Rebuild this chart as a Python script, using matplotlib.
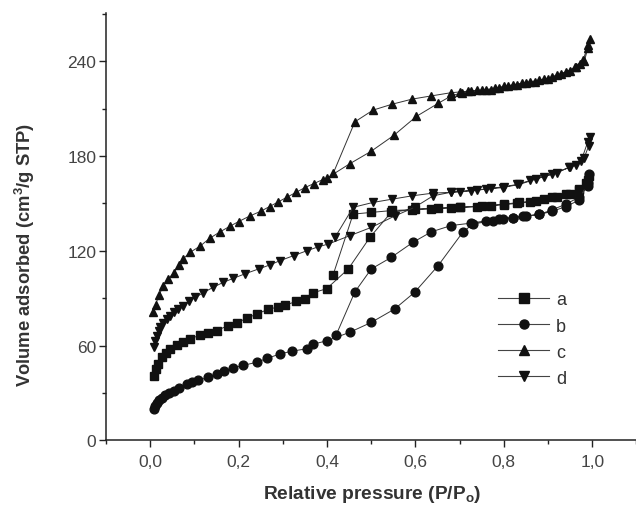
import matplotlib
matplotlib.use("Agg")
import matplotlib.pyplot as plt
from matplotlib.lines import Line2D
from matplotlib.ticker import MultipleLocator, FuncFormatter

plt.rcParams['font.family'] = ['Liberation Sans', 'DejaVu Sans']

# sample a: adsorption then desorption branch
a_ads_p = [0.0075, 0.012, 0.018, 0.026, 0.035, 0.045, 0.06, 0.075, 0.09, 0.113, 0.13, 0.15,
           0.175, 0.196, 0.22, 0.241, 0.267, 0.29, 0.305, 0.33, 0.35, 0.369, 0.399, 0.448,
           0.497, 0.545, 0.598, 0.65, 0.70, 0.75, 0.80, 0.835, 0.873, 0.91, 0.94, 0.97, 0.986, 0.993]
a_ads_v = [41, 45, 48.5, 52.6, 55.5, 58, 60.5, 62.5, 64.5, 66.5, 68, 69.5,
           72.5, 74.5, 77.5, 80, 83, 84.5, 85.5, 88, 89.5, 93.5, 96, 108.5,
           128.5, 144.3, 146.4, 147, 147.5, 148.2, 149.5, 150.6, 151.6, 153.8, 155.9, 159, 163, 167.5]
a_des_p = [0.99, 0.97, 0.95, 0.92, 0.89, 0.86, 0.83, 0.80, 0.77, 0.74, 0.70, 0.68,
           0.636, 0.593, 0.548, 0.5, 0.459, 0.414]
a_des_v = [165, 158.5, 156, 154, 152.5, 151, 150, 149.2, 148.5, 148, 147.5, 147.2,
           146.5, 146, 145.5, 144.3, 143.2, 105]

# sample b
b_ads_p = [0.008, 0.011, 0.015, 0.02, 0.027, 0.034, 0.043, 0.053, 0.065, 0.083, 0.095, 0.109,
           0.13, 0.15, 0.168, 0.188, 0.21, 0.241, 0.265, 0.293, 0.32, 0.354, 0.369, 0.399,
           0.451, 0.5, 0.553, 0.598, 0.651, 0.707, 0.73, 0.775, 0.797, 0.82, 0.843, 0.88,
           0.91, 0.94, 0.97, 0.99, 0.993]
b_ads_v = [20, 22, 24, 25.5, 27, 28.5, 30, 31.5, 33.5, 35.7, 37, 38,
           40, 42, 44, 46, 47.5, 49.5, 52, 54.7, 56.5, 58, 61, 63,
           68.4, 74.7, 83.2, 93.7, 110.5, 131.7, 137, 139, 140, 141, 141.8, 143,
           146, 149.5, 153.8, 161, 168.5]
b_des_p = [0.99, 0.97, 0.94, 0.91, 0.88, 0.85, 0.82, 0.79, 0.76, 0.726, 0.681, 0.636,
           0.594, 0.545, 0.5, 0.463, 0.421]
b_des_v = [163, 152, 148, 145, 143, 142, 141, 140, 139, 137.5, 136, 132,
           125.3, 115.8, 108.5, 94, 67]

# sample c
c_ads_p = [0.007, 0.012, 0.02, 0.03, 0.04, 0.053, 0.065, 0.075, 0.09, 0.113, 0.135, 0.158,
           0.18, 0.2, 0.225, 0.25, 0.27, 0.29, 0.31, 0.33, 0.35, 0.37, 0.39, 0.40,
           0.451, 0.5, 0.551, 0.602, 0.652, 0.681, 0.705, 0.726, 0.75, 0.77, 0.79, 0.81,
           0.83, 0.85, 0.87, 0.89, 0.91, 0.93, 0.95, 0.963, 0.972, 0.982, 0.99, 0.995]
c_ads_v = [81.5, 86, 92, 98, 102, 106, 111, 115, 119, 123, 128, 132,
           135.5, 138.5, 142, 145, 148, 151, 154, 157, 160, 162.5, 165, 166,
           175, 183, 193, 205, 213.4, 218, 220, 221, 221.5, 222, 223, 224,
           225, 226, 227, 228.5, 230, 232, 234, 236, 238, 240, 248, 254]
c_des_p = [0.99, 0.98, 0.96, 0.94, 0.92, 0.90, 0.88, 0.86, 0.84, 0.82, 0.80, 0.78,
           0.76, 0.74, 0.72, 0.70, 0.68, 0.636, 0.593, 0.548, 0.504, 0.463, 0.414]
c_des_v = [250, 241, 236, 233, 231, 229, 228, 227, 226, 225, 224, 223,
           222, 221.5, 221, 220.5, 220, 218, 216, 212.8, 209, 201.6, 169]

# sample d
d_ads_p = [0.0075, 0.011, 0.015, 0.019, 0.023, 0.03, 0.038, 0.045, 0.053, 0.063, 0.075, 0.088,
           0.102, 0.12, 0.143, 0.165, 0.188, 0.215, 0.245, 0.27, 0.293, 0.325, 0.354, 0.38,
           0.403, 0.451, 0.5, 0.553, 0.598, 0.64, 0.68, 0.726, 0.76, 0.797, 0.835, 0.873,
           0.91, 0.948, 0.963, 0.982, 0.992, 0.994]
d_ads_v = [59, 63, 66, 69, 71.6, 74.5, 77, 79, 81, 83, 85, 88,
           90.5, 93.5, 97, 100, 102.6, 105.5, 108.5, 111, 113.7, 117, 120, 122.5,
           124.3, 129.5, 134.8, 142, 147.5, 154.8, 157, 158, 159, 160, 162, 165.4,
           168.5, 172.8, 174, 179, 186.4, 191.7]
d_des_p = [0.99, 0.975, 0.95, 0.92, 0.89, 0.86, 0.83, 0.80, 0.77, 0.74, 0.70, 0.68,
           0.64, 0.593, 0.548, 0.504, 0.459, 0.418]
d_des_v = [189, 177, 173, 169.5, 167, 164.5, 162, 160.5, 159.5, 158.5, 157.5, 157,
           156.5, 154.8, 152.7, 150.6, 147.5, 128.5]

series = [
    ("a", "s", a_ads_p + a_des_p, a_ads_v + a_des_v),
    ("b", "o", b_ads_p + b_des_p, b_ads_v + b_des_v),
    ("c", "^", c_ads_p + c_des_p, c_ads_v + c_des_v),
    ("d", "v", d_ads_p + d_des_p, d_ads_v + d_des_v),
]

fig = plt.figure(figsize=(6.36, 5.06), dpi=100)
ax = fig.add_axes([0.1667, 0.1275, 0.834, 0.845])

handles = []
for name, mk, px, vy in series:
    ms = 5.5 if mk == "s" else 6.3
    ax.plot(px, vy, color="#333333", lw=0.7, marker=mk, ms=ms,
            mfc="#111111", mec="#111111", zorder=2)
    handles.append(Line2D([], [], color="#444444", lw=0.8, marker=mk, ms=6.5,
                          mfc="#111111", mec="#111111"))

ax.set_xlim(-0.1, 1.1)
ax.set_ylim(0, 270.5)
ax.spines['top'].set_visible(False)
ax.spines['right'].set_visible(False)
ax.spines['left'].set_color('#222222')
ax.spines['bottom'].set_color('#222222')
ax.spines['left'].set_linewidth(1.1)
ax.spines['bottom'].set_linewidth(1.1)

ax.xaxis.set_major_locator(MultipleLocator(0.2))
ax.xaxis.set_minor_locator(MultipleLocator(0.1))
ax.yaxis.set_major_locator(MultipleLocator(60))
ax.yaxis.set_minor_locator(MultipleLocator(30))
ax.xaxis.set_major_formatter(FuncFormatter(lambda v, pos: ("%.1f" % v).replace(".", ",")))
ax.tick_params(which='major', direction='out', length=5, width=1, colors='#222222',
               labelsize=12.5, labelcolor='#444444')
ax.tick_params(which='minor', direction='out', length=3, width=1, colors='#222222')
ax.tick_params(axis='x', pad=5)
ax.tick_params(axis='y', pad=2)

fig.text(0.585, 0.022, "Relative pressure (P/P$_\\mathregular{o}$)", ha='center', va='center',
         fontsize=13.8, fontweight='bold', color='#333333')
fig.text(0.039, 0.496, "Volume adsorbed (cm$^\\mathregular{3}$/g STP)", ha='center', va='center',
         rotation=90, fontsize=13.2, fontweight='bold', color='#333333')

ax.legend(handles, [s[0] for s in series], loc='center', bbox_to_anchor=(0.837, 0.328),
          bbox_transform=fig.transFigure, frameon=False, fontsize=13, handlelength=2.8,
          labelspacing=0.5, handletextpad=0.4, labelcolor='#333333')

fig.savefig("out.png", dpi=100, facecolor='white')
